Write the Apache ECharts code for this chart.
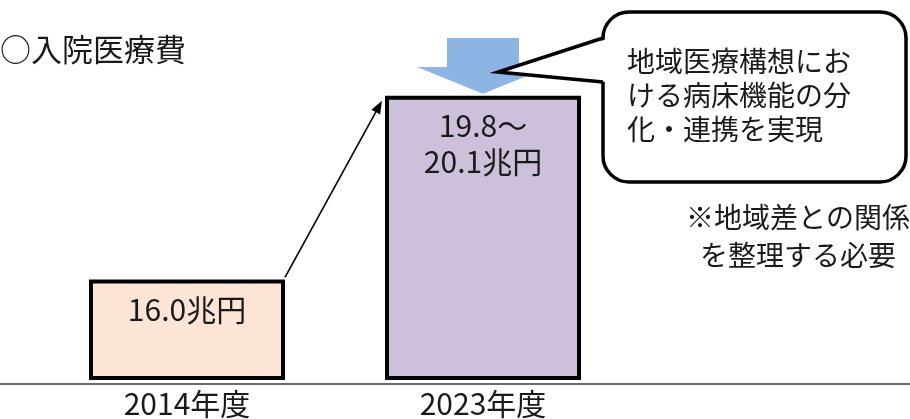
<!DOCTYPE html>
<html>
<head>
<meta charset="utf-8">
<script src="https://cdn.jsdelivr.net/npm/echarts@6/dist/echarts.min.js"></script>
<style>
html,body{margin:0;padding:0;background:#fff;}
#c{width:910px;height:419px;}
</style>
</head>
<body>
<div id="c"></div>
<script>
const categories = ['2014年度', '2023年度'];
const highValues = [16.0, 20.1];
const lowValues = [16.0, 19.8];
const barColors = ['#FCE4D6', '#CCC0DA'];
const titleText = '○入院医療費';
const bubbleLines = ['地域医療構想にお', 'ける病床機能の分', '化・連携を実現'];
const noteLines = ['※地域差との関係', 'を整理する必要'];

const FONT = '"Noto Sans CJK JP", "Noto Sans", sans-serif';
const chart = echarts.init(document.getElementById('c'), null, {renderer: 'canvas'});

function labelText(i) {
  if (lowValues[i] === highValues[i]) return highValues[i].toFixed(1) + '兆円';
  return lowValues[i].toFixed(1) + '～\n' + highValues[i].toFixed(1) + '兆円';
}

const BW = 196;
chart.setOption({
  backgroundColor: '#ffffff',
  animation: false,
  grid: [
    {left: 0, right: 0, top: 6, bottom: 35},
    {left: 39, right: 279, top: 6, bottom: 36}
  ],
  xAxis: [
    {type: 'value', gridIndex: 0, min: 0, max: 1,
     axisLine: {show: true, onZero: false, lineStyle: {color: '#3a3a3a', width: 1.5}},
     axisTick: {show: false}, axisLabel: {show: false}, splitLine: {show: false}},
    {type: 'category', gridIndex: 1, data: categories,
     axisLine: {show: false}, axisTick: {show: false},
     axisLabel: {color: '#1a1a1a', fontSize: 30, fontFamily: FONT, margin: 11}}
  ],
  yAxis: [
    {type: 'value', gridIndex: 0, show: false, min: 0, max: 1},
    {type: 'value', gridIndex: 1, show: false, min: 13.8, max: 22.1}
  ],
  series: [
    {type: 'line', xAxisIndex: 0, yAxisIndex: 0, data: [], silent: true},
    {type: 'bar', xAxisIndex: 1, yAxisIndex: 1, barWidth: BW,
     data: highValues.map((v, i) => ({value: v, itemStyle: {color: barColors[i]}})),
     itemStyle: {borderColor: '#000', borderWidth: 4},
     label: {show: true, position: 'insideTop', distance: 12,
       formatter: p => labelText(p.dataIndex),
       color: '#1a1a1a', fontSize: 30, lineHeight: 36, fontFamily: FONT},
     z: 3}
  ]
});

const p1 = chart.convertToPixel({xAxisIndex: 1, yAxisIndex: 1}, [0, highValues[0]]);
const p2 = chart.convertToPixel({xAxisIndex: 1, yAxisIndex: 1}, [1, highValues[1]]);
const start = [p1[0] + BW / 2, p1[1] - 2];
const end = [p2[0] - BW / 2 - 3, p2[1] + 5];
const ang = Math.atan2(end[1] - start[1], end[0] - start[0]);
const L = 13, W = 5;
const back = [end[0] - L * Math.cos(ang), end[1] - L * Math.sin(ang)];
const head = [
  end,
  [back[0] + W * Math.sin(ang), back[1] - W * Math.cos(ang)],
  [back[0] - W * Math.sin(ang), back[1] + W * Math.cos(ang)]
];
const tipX = p2[0], tipY = p2[1] - 2;

chart.setOption({
  graphic: [
    {type: 'text', x: 0, y: 34, style: {text: titleText, fontSize: 31, fontFamily: FONT, fill: '#1a1a1a'}},
    {type: 'line', shape: {x1: start[0], y1: start[1], x2: back[0], y2: back[1]}, style: {stroke: '#000', lineWidth: 1.6}, z: 10},
    {type: 'polygon', shape: {points: head}, style: {fill: '#000'}, z: 10},
    {type: 'polygon', shape: {points: [
      [tipX - 36, 38], [tipX + 36, 38], [tipX + 36, 67], [tipX + 66, 67],
      [tipX, tipY], [tipX - 66, 67], [tipX - 36, 67]
    ]}, style: {fill: '#8DB4E2'}, z: 5},
    {type: 'rect', shape: {x: 603, y: 12, width: 303, height: 170, r: 26},
     style: {fill: '#ffffff', stroke: '#000', lineWidth: 3.5}, z: 6},
    {type: 'polygon', shape: {points: [[607, 39], [499, 72], [607, 82]]},
     style: {fill: '#ffffff'}, z: 7},
    {type: 'polyline', shape: {points: [[603, 38], [498, 72], [603, 82]]},
     style: {stroke: '#000', lineWidth: 3.5, fill: null, lineJoin: 'miter'}, z: 8},
    {type: 'text', x: 627, y: 44, z: 9,
     style: {text: bubbleLines.join('\n'), fontSize: 28, lineHeight: 34, fontFamily: FONT, fill: '#1a1a1a'}},
    {type: 'text', x: 798, y: 198, z: 9,
     style: {text: noteLines.join('\n'), fontSize: 28, lineHeight: 38, fontFamily: FONT, fill: '#1a1a1a', align: 'center'}}
  ]
});
</script>
</body>
</html>
